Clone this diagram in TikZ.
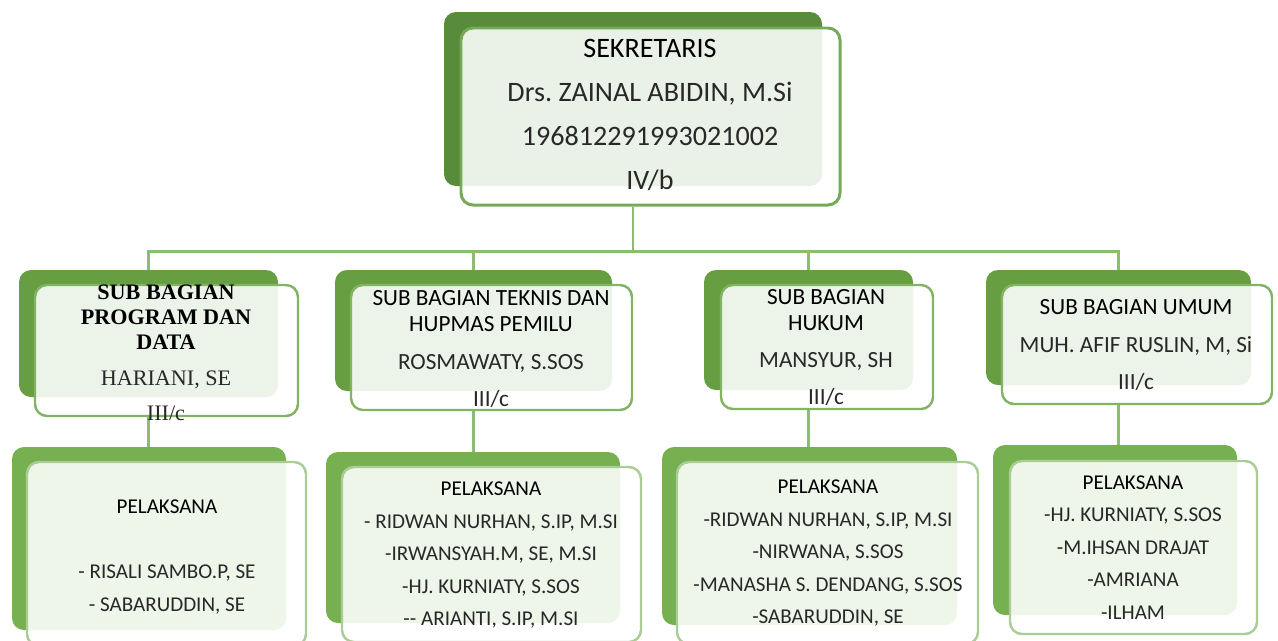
\documentclass[tikz,border=0pt]{standalone}
\usepackage{fontspec}
\setmainfont{Carlito}
\newfontfamily\headserif{Liberation Serif}
\usetikzlibrary{positioning}
\frenchspacing
\definecolor{sekgreen}{RGB}{88,140,58}
\definecolor{subgreen}{RGB}{103,158,66}
\definecolor{pelgreen}{RGB}{118,176,80}
\definecolor{sekline}{RGB}{118,170,88}
\definecolor{subline}{RGB}{130,180,100}
\definecolor{pelline}{RGB}{170,205,150}
\definecolor{linkgreen}{RGB}{140,188,110}
\definecolor{namegray}{RGB}{40,40,40}
\tikzset{
    backbox/.style 2 args={rectangle, rounded corners=0.24cm, inner sep=0pt,
        minimum width=#1*0.02cm, minimum height=#2*0.02cm},
    frontbox/.style 2 args={backbox={#1}{#2}, fill=white, fill opacity=0.88,
        line width=1.4pt},
    link/.style={draw=linkgreen, line width=1.4pt},
    subtext/.style={align=center, font=\fontsize{13.2}{14.8}\selectfont},
    peltext/.style={align=center, font=\fontsize{12}{18.5}\selectfont}
}

\begin{document}
\begin{tikzpicture}[x=0.02cm, y=-0.02cm]
    \useasboundingbox (0,0) rectangle (1278,640);
    \clip (0,0) rectangle (1278,640);

    % Back blocks
    \node[backbox={378}{174}, fill=sekgreen] (sekback) at (633,99) {};
    \node[backbox={259}{127}, fill=subgreen] (sub1back) at (148.5,333.5) {};
    \node[backbox={277}{121}, fill=subgreen] (sub2back) at (473.5,330.5) {};
    \node[backbox={209}{120}, fill=subgreen] (sub3back) at (808.5,330) {};
    \node[backbox={265}{115}, fill=subgreen] (sub4back) at (1118.5,327.5) {};
    \node[backbox={274}{183}, fill=pelgreen] (pel1back) at (149,538.5) {};
    \node[backbox={294}{171}, fill=pelgreen] (pel2back) at (473,537.5) {};
    \node[backbox={295}{178}, fill=pelgreen] (pel3back) at (809.5,536) {};
    \node[backbox={244}{170}, fill=pelgreen] (pel4back) at (1115,530) {};

    % Front frames
    \node[frontbox={379}{177}, draw=sekline, line width=1.7pt] (sekfront) at (650.5,116.5) {};
    \node[frontbox={263}{131}, draw=subline] (sub1front) at (166.5,350.5) {};
    \node[frontbox={281}{125}, draw=subline] (sub2front) at (491.5,347.5) {};
    \node[frontbox={212}{124}, draw=subline] (sub3front) at (827,347) {};
    \node[frontbox={270}{119}, draw=subline] (sub4front) at (1137,344.5) {};
    \node[frontbox={279}{184}, draw=pelline] (pel1front) at (166.5,554) {};
    \node[frontbox={299}{175}, draw=pelline] (pel2front) at (491.5,554.5) {};
    \node[frontbox={301}{182}, draw=pelline] (pel3front) at (827.5,553) {};
    \node[frontbox={247}{173}, draw=pelline] (pel4front) at (1133.5,547.5) {};

    % Connectors
    \coordinate[below=1.3cm of sekback.south] (bus);
    \draw[link] (sekback.south |- sekfront.south) -- (bus);
    \draw[link] (sub1back.north) |- (bus) -| (sub4back.north);
    \draw[link] (bus) -| (sub2back.north);
    \draw[link] (bus) -| (sub3back.north);
    \draw[link] (sub1back.south |- sub1front.south) -- (sub1back.south |- pel1back.north);
    \draw[link] (sub2back.south |- sub2front.south) -- (sub2back.south |- pel2back.north);
    \draw[link] (sub3back.south |- sub3front.south) -- (sub3back.south |- pel3back.north);
    \draw[link] (sub4back.south |- sub4front.south) -- (sub4back.south |- pel4back.north);

    % Texts
    \node[align=center, font=\fontsize{16}{25}\selectfont] (sektext) at (650,115)
        {SEKRETARIS\\ \textcolor{namegray}{Drs. ZAINAL ABIDIN, M.Si}\\
         \textcolor{namegray}{196812291993021002}\\ \textcolor{namegray}{IV/b}};
    \node[align=center, font=\headserif\fontsize{12.6}{14.2}\selectfont] (sub1text) at (166,352.5)
        {\textbf{SUB BAGIAN}\\ \textbf{PROGRAM DAN}\\ \textbf{DATA}\\[6.3pt]
         \textcolor{namegray}{HARIANI, SE}\\[5.7pt] \textcolor{namegray}{III/c}};
    \node[subtext] (sub2text) at (491,349)
        {SUB BAGIAN TEKNIS DAN\\ HUPMAS PEMILU\\[6.3pt]
         \textcolor{namegray}{ROSMAWATY, S.SOS}\\[6.3pt] \textcolor{namegray}{III/c}};
    \node[subtext] (sub3text) at (826,347.5)
        {SUB BAGIAN\\ HUKUM\\[6.3pt]
         \textcolor{namegray}{MANSYUR, SH}\\[6.3pt] \textcolor{namegray}{III/c}};
    \node[subtext] (sub4text) at (1136,345)
        {SUB BAGIAN UMUM\\[6.3pt]
         \textcolor{namegray}{MUH. AFIF RUSLIN, M, Si}\\[6.3pt] \textcolor{namegray}{III/c}};
    \node[peltext] (pel1text) at (167,557)
        {PELAKSANA\\[18.5pt] \textcolor{namegray}{- RISALI SAMBO.P, SE}\\
         \textcolor{namegray}{- SABARUDDIN, SE}};
    \node[peltext] (pel2text) at (491,555)
        {PELAKSANA\\ \textcolor{namegray}{- RIDWAN NURHAN, S.IP, M.SI}\\
         \textcolor{namegray}{-IRWANSYAH.M, SE, M.SI}\\
         \textcolor{namegray}{-HJ. KURNIATY, S.SOS}\\
         \textcolor{namegray}{{-}{-} ARIANTI, S.IP, M.SI}};
    \node[peltext] (pel3text) at (828,553)
        {PELAKSANA\\ \textcolor{namegray}{-RIDWAN NURHAN, S.IP, M.SI}\\
         \textcolor{namegray}{-NIRWANA, S.SOS}\\
         \textcolor{namegray}{-MANASHA S. DENDANG, S.SOS}\\
         \textcolor{namegray}{-SABARUDDIN, SE}};
    \node[peltext] (pel4text) at (1133,547.5)
        {PELAKSANA\\ \textcolor{namegray}{-HJ. KURNIATY, S.SOS}\\
         \textcolor{namegray}{-M.IHSAN DRAJAT}\\
         \textcolor{namegray}{-AMRIANA}\\
         \textcolor{namegray}{-ILHAM}};
\end{tikzpicture}
\end{document}
